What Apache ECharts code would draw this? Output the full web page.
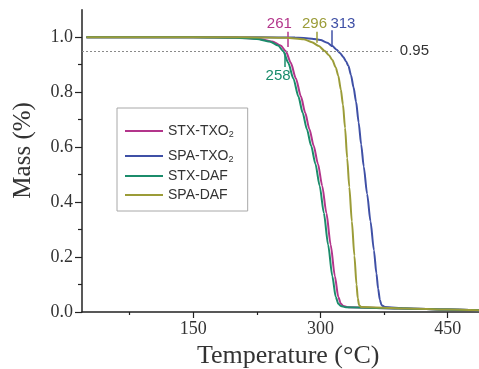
<!DOCTYPE html>
<html><head><meta charset="utf-8">
<script src="https://cdn.jsdelivr.net/npm/echarts@6/dist/echarts.min.js"></script>
<style>html,body{margin:0;padding:0;background:#fff}#c{width:479px;height:369px}</style>
</head><body><div id="c"></div><script>
// ---------- data ----------
const seriesNames = ['STX-TXO2', 'SPA-TXO2', 'STX-DAF', 'SPA-DAF'];

const stxTxoTemp = [24, 150, 203, 228, 243, 253, 259, 265, 271, 277, 282, 287, 292, 297, 302, 307, 312, 317, 321, 324, 327, 333, 400, 450, 505];
const stxTxoMass = [1.0, 1.0, 0.998, 0.994, 0.985, 0.97, 0.95, 0.907, 0.85, 0.784, 0.725, 0.665, 0.605, 0.54, 0.46, 0.36, 0.245, 0.13, 0.055, 0.03, 0.022, 0.017, 0.013, 0.009, 0.005];

const spaTxoTemp = [24, 230, 270, 290, 300, 308, 314, 319, 323, 327, 330, 333, 336, 339, 342, 345, 348, 351, 355, 359, 363, 366, 368, 370, 372, 376, 400, 450, 505];
const spaTxoMass = [1.0, 1.0, 0.999, 0.995, 0.99, 0.98, 0.968, 0.955, 0.943, 0.928, 0.913, 0.895, 0.862, 0.818, 0.765, 0.69, 0.61, 0.53, 0.43, 0.33, 0.225, 0.14, 0.085, 0.045, 0.025, 0.018, 0.013, 0.009, 0.005];

const stxDafTemp = [24, 150, 200, 225, 240, 250, 256, 262, 268, 274, 279, 284, 289, 294, 299, 304, 309, 314, 318, 321, 324, 330, 400, 450, 505];
const stxDafMass = [1.0, 1.0, 0.998, 0.994, 0.985, 0.97, 0.95, 0.907, 0.85, 0.784, 0.725, 0.665, 0.605, 0.54, 0.46, 0.36, 0.245, 0.13, 0.055, 0.03, 0.022, 0.017, 0.013, 0.009, 0.005];

const spaDafTemp = [24, 210, 260, 280, 290, 298, 305, 310, 314, 318, 321, 324, 326.5, 329, 331.5, 334, 337, 340, 342.5, 344, 345.5, 348, 400, 450, 505];
const spaDafMass = [1.0, 1.0, 0.998, 0.993, 0.982, 0.968, 0.95, 0.935, 0.917, 0.89, 0.86, 0.81, 0.755, 0.67, 0.56, 0.455, 0.33, 0.205, 0.1, 0.05, 0.025, 0.018, 0.013, 0.009, 0.005];

const onsetTemps = [261, 313, 258, 296];   // T at 5 % mass loss, same order as seriesNames
const refLevel = 0.95;

const xMajorTicks = [150, 300, 450];
const xMinorTicks = [75, 225, 375];
const yMajorTicks = [0, 0.2, 0.4, 0.6, 0.8, 1.0];
const yMinorTicks = [0.1, 0.3, 0.5, 0.7, 0.9];

// ---------- styling ----------
const colors = ['#b3358b', '#3f50a6', '#1b8c6b', '#9b9c38'];
const temps = [stxTxoTemp, spaTxoTemp, stxDafTemp, spaDafTemp];
const masses = [stxTxoMass, spaTxoMass, stxDafMass, spaDafMass];
const X_MIN = 18.75, X_MAX = 505, Y_MIN = 0, Y_MAX = 1.1;
// tick segment (mass range) and label anchor for each onset annotation
const tickSpan = [[0.965, 1.02], [0.965, 1.026], [0.892, 0.943], [0.98, 1.02]];
const labelShift = [-9.5, 13.5, -8, -3];      // in temperature units
const labelMass = [1.05, 1.05, 0.861, 1.05];

const serif = 'Liberation Serif';
const sans = 'Liberation Sans';

function pairs(t, m) { return t.map((v, i) => [v, m[i]]); }

const series = seriesNames.map((name, i) => ({
  name,
  type: 'line',
  xAxisIndex: 0, yAxisIndex: 0,
  data: pairs(temps[i], masses[i]),
  showSymbol: false, symbol: 'none',
  smooth: 0.25, smoothMonotone: 'x',
  lineStyle: { color: colors[i], width: 2 },
  itemStyle: { color: colors[i] },
  z: 3 + i,
  markLine: {
    silent: true, symbol: 'none', animation: false,
    lineStyle: { color: colors[i], width: 1.5, type: 'solid' },
    label: { show: false },
    data: [[{ coord: [onsetTemps[i], tickSpan[i][0]] }, { coord: [onsetTemps[i], tickSpan[i][1]] }]]
  },
  markPoint: {
    silent: true, animation: false, symbol: 'circle', symbolSize: 0,
    label: { show: true, position: 'inside', formatter: '{c}', color: colors[i], fontFamily: sans, fontSize: 15 },
    data: [{ coord: [onsetTemps[i] + labelShift[i], labelMass[i]], value: String(onsetTemps[i]) }]
  }
}));

// reference 0.95 line
series.push({
  name: 'ref', type: 'line', data: [], xAxisIndex: 0, yAxisIndex: 0,
  markLine: {
    silent: true, symbol: 'none', animation: false,
    lineStyle: { color: '#8a8a8a', width: 1, type: [2, 2] },
    label: { show: true, position: 'end', formatter: String(refLevel), color: '#333', fontFamily: sans, fontSize: 15, distance: 6 },
    data: [[{ coord: [X_MIN, refLevel] }, { coord: [386.5, refLevel] }]]
  }
});

const axisLineStyle = { show: true, lineStyle: { color: '#222', width: 1.5 } };

const option = {
  animation: false,
  backgroundColor: '#fff',
  grid: { left: 82, right: -15.3, top: 9.8, bottom: 57, containLabel: false, outerBoundsMode: 'none' },
  legend: {
    orient: 'vertical', left: 117, top: 108,
    data: seriesNames.map((n, i) => ({ name: n, icon: 'rect', itemStyle: { color: colors[i] } })),
    itemWidth: 38, itemHeight: 2, itemGap: 5,
    borderColor: '#a8a8a8', borderWidth: 1, padding: [11, 14, 9, 8],
    textStyle: {
      fontFamily: sans, fontSize: 14, color: '#333',
      rich: {
        n: { fontFamily: sans, fontSize: 14, color: '#333', lineHeight: 16 },
        s: { fontFamily: sans, fontSize: 9, color: '#333', lineHeight: 9, verticalAlign: 'bottom', padding: [11, 0, 0, 0] }
      }
    },
    formatter: (name) => name.endsWith('2') ? '{n|' + name.slice(0, -1) + '}{s|2}' : '{n|' + name + '}'
  },
  xAxis: [{
    type: 'value', min: X_MIN, max: X_MAX, position: 'bottom',
    axisLine: axisLineStyle,
    axisTick: { show: true, inside: false, length: 6, customValues: xMajorTicks, lineStyle: { color: '#222', width: 1.2 } },
    axisLabel: { show: true, customValues: xMajorTicks, margin: 8, fontFamily: serif, fontSize: 18, color: '#333' },
    splitLine: { show: false },
    name: 'Temperature (°C)', nameLocation: 'middle', nameGap: 27,
    nameTextStyle: { fontFamily: serif, fontSize: 26, color: '#333' }
  }, {
    type: 'value', min: X_MIN, max: X_MAX, position: 'bottom',
    axisLine: { show: false },
    axisTick: { show: true, inside: false, length: 3, customValues: xMinorTicks, lineStyle: { color: '#222', width: 1.2 } },
    axisLabel: { show: false }, splitLine: { show: false }
  }],
  yAxis: [{
    type: 'value', min: Y_MIN, max: Y_MAX, position: 'left',
    axisLine: axisLineStyle,
    axisTick: { show: true, inside: false, length: 7, customValues: yMajorTicks, lineStyle: { color: '#222', width: 1.2 } },
    axisLabel: { show: true, customValues: yMajorTicks, margin: 9, fontFamily: serif, fontSize: 18, color: '#333', formatter: (v) => v.toFixed(1) },
    splitLine: { show: false },
    name: 'Mass (%)', nameLocation: 'middle', nameGap: 46,
    nameTextStyle: { fontFamily: serif, fontSize: 25, color: '#333', padding: [0, 0, 0, 21] }
  }, {
    type: 'value', min: Y_MIN, max: Y_MAX, position: 'left',
    axisLine: { show: false },
    axisTick: { show: true, inside: false, length: 4, customValues: yMinorTicks, lineStyle: { color: '#222', width: 1.2 } },
    axisLabel: { show: false }, splitLine: { show: false }
  }],
  series
};

const chart = echarts.init(document.getElementById('c'), null, { renderer: 'canvas' });
chart.setOption(option);
</script></body></html>
